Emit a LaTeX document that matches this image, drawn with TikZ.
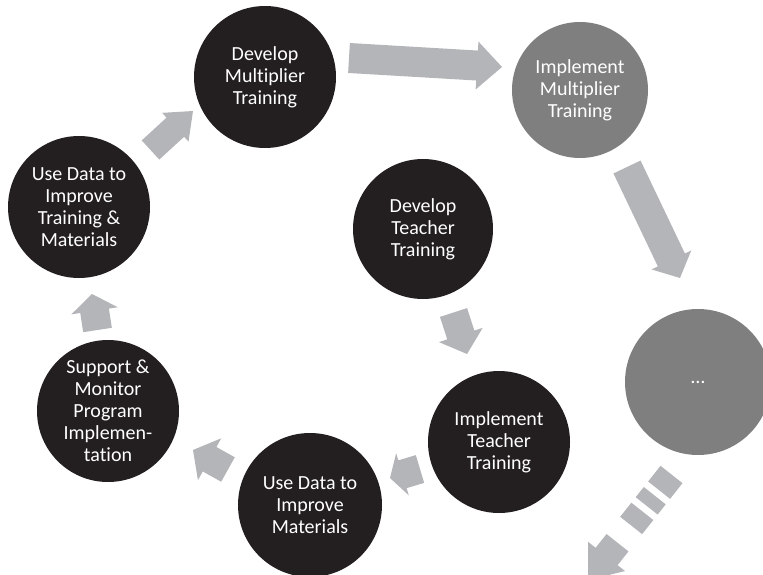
\documentclass[tikz,border=0pt]{standalone}
\usepackage{fontspec}
\setmainfont{Carlito}[Ligatures=NoCommon]
\usetikzlibrary{calc}
\definecolor{stageblack}{HTML}{231F20}
\definecolor{stagegray}{HTML}{7F7F7F}
\definecolor{arrowgray}{HTML}{B3B5B8}
\tikzset{
  stage/.style={circle,fill=stageblack,text=white,inner sep=0pt,minimum size=142pt,
    align=center,font=\fontsize{20}{22}\selectfont},
  later/.style={stage,fill=stagegray},
  arrowbody/.style={fill=arrowgray}
}
% tail, tip, shaft width, head width, head length
\newcommand\blockarrow[5]{%
  \path ($(#2)!#5pt!(#1)$) coordinate (#1n);
  \fill[arrowbody] ($(#1)!#3pt/2!90:(#2)$) -- ($(#1n)!#3pt/2!-90:(#1)$)
    -- ($(#1n)!#4pt/2!-90:(#1)$) -- (#2) -- ($(#1n)!#4pt/2!90:(#1)$)
    -- ($(#1n)!#3pt/2!90:(#1)$) -- ($(#1)!#3pt/2!-90:(#2)$) -- cycle;}
\begin{document}
\begin{tikzpicture}[x=1pt,y=-1pt]
      \useasboundingbox (0,0) rectangle (763,575);
      \clip (0,0) rectangle (763,575);
      \draw
        (265,77) node[stage] (0){Develop\\Multiplier\\Training}
        (580,90) node[later,minimum size=136pt] (1){Implement\\Multiplier\\Training}
        (698,382) node[later,minimum size=146pt] (2){…}
        (499,442) node[stage] (3){Implement\\Teacher\\Training}
        (310,505) node[stage,minimum size=144pt] (4){Use Data to\\Improve\\Materials}
        (108,411) node[stage] (5){Support \&\\Monitor\\Program\\Implemen-\\tation}
        (79,207) node[stage] (6){Use Data to\\Improve\\Training \&\\Materials}
        (423,229) node[stage,minimum size=140pt] (7){Develop\\Teacher\\Training};
      \path
        (349,58) coordinate (t0) (502,67) coordinate (h0)
        (627,167) coordinate (t1) (680,278) coordinate (h1)
        (671.5,474.5) coordinate (t2) (588,580) coordinate (h2)
        (453.5,312.5) coordinate (t3) (467,354) coordinate (h3)
        (420,469) coordinate (t4) (390,478) coordinate (h4)
        (228,469.5) coordinate (t5) (193,450) coordinate (h5)
        (97.5,330) coordinate (t6) (92,294) coordinate (h6)
        (150.5,150) coordinate (t7) (193,111) coordinate (h7);
      \path ($(t2)!87pt!(h2)$) coordinate (s2);
      \begin{scope}
        \blockarrow{t0}{h0}{30}{48}{25}
        \blockarrow{t1}{h1}{30}{44}{20}
        \blockarrow{s2}{h2}{28}{47}{30}
        \foreach \a/\b in {0/20,27/40,47/65}
          \draw[arrowgray,line width=28pt] ($(t2)!\a pt!(h2)$) -- ($(t2)!\b pt!(h2)$);
        \blockarrow{t3}{h3}{28.5}{46}{20}
        \blockarrow{t4}{h4}{29}{44}{13}
        \blockarrow{t5}{h5}{28}{48}{19}
        \blockarrow{t6}{h6}{29}{47}{17}
        \blockarrow{t7}{h7}{26}{39}{24}
      \end{scope}
    \end{tikzpicture}
\end{document}
